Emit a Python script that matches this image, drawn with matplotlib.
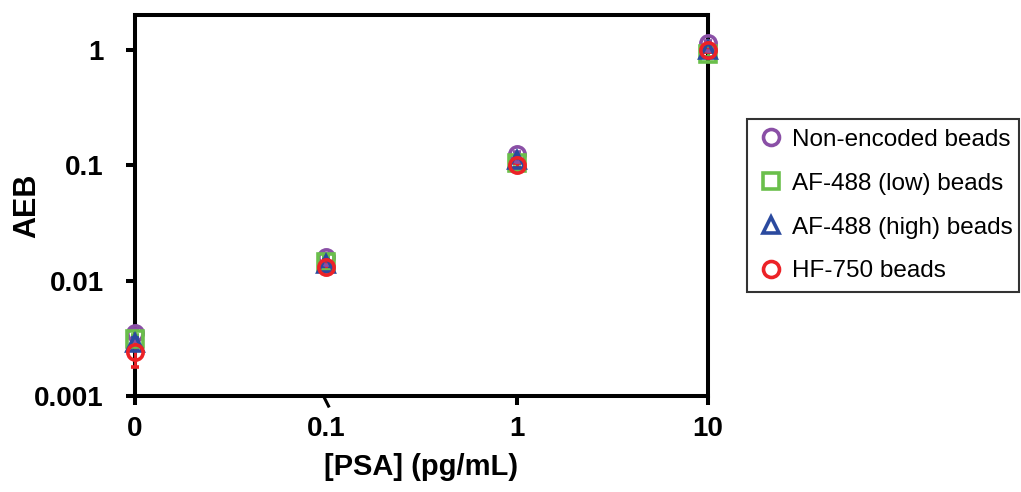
import matplotlib
matplotlib.use("Agg")
import matplotlib.pyplot as plt
import matplotlib.transforms as mtransforms
from matplotlib.lines import Line2D
import numpy as np

plt.rcParams['font.family'] = ['Liberation Sans', 'DejaVu Sans']

# concentrations; 0 is drawn one decade below 0.1 on the log axis
psa = [0, 0.1, 1, 10]
psa_plot_pos = [0.01, 0.1, 1, 10]
tick_labels = ['0', '0.1', '1', '10']

series_names = ['Non-encoded beads', 'AF-488 (low) beads',
                'AF-488 (high) beads', 'HF-750 beads']
aeb_nonencoded = [0.0035, 0.016, 0.125, 1.15]
aeb_af488_low = [0.0031, 0.0145, 0.105, 0.92]
aeb_af488_high = [0.0029, 0.014, 0.11, 1.0]
aeb_hf750 = [0.0024, 0.013, 0.10, 1.0]

err_nonencoded = [0.0003, 0.001, 0.006, 0.05]
err_af488_low = [0.0003, 0.0015, 0.008, 0.05]
err_af488_high = [0.0003, 0.001, 0.006, 0.04]
err_hf750 = [0.0006, 0.0008, 0.005, 0.04]

colors = ['#8A4FA6', '#6ABF4B', '#2B4A9F', '#EC2227']
markers = ['o', 's', '^', 'o']

fig = plt.figure(figsize=(10.21, 4.92), dpi=100)
ax = fig.add_axes([0.1322, 0.1951, 0.5612, 0.7744])

all_y = [aeb_nonencoded, aeb_af488_low, aeb_af488_high, aeb_hf750]
all_err = [err_nonencoded, err_af488_low, err_af488_high, err_hf750]

for name, y, e, c, m in zip(series_names, all_y, all_err, colors, markers):
    ax.errorbar(psa_plot_pos, y, yerr=e, fmt=m, color=c, ecolor=c,
                markerfacecolor='none', markeredgecolor=c, markersize=11,
                markeredgewidth=2.6, elinewidth=2.0, capsize=3, capthick=2.0,
                clip_on=False, zorder=3)

ax.set_xscale('log')
ax.set_yscale('log')
ax.set_xlim(0.01, 10)
ax.set_ylim(0.001, 2)

ax.set_xticks(psa_plot_pos)
ax.set_xticklabels(tick_labels)
ax.xaxis.set_minor_locator(matplotlib.ticker.NullLocator())
ax.set_yticks([0.001, 0.01, 0.1, 1])
ax.set_yticklabels(['0.001', '0.01', '0.1', '1'])
ax.yaxis.set_minor_locator(matplotlib.ticker.NullLocator())

for s in ax.spines.values():
    s.set_linewidth(2.9)
ax.tick_params(axis='both', direction='out', length=6.5, width=2.9,
               labelsize=20)
ax.tick_params(axis='y', pad=16)
ax.tick_params(axis='x', pad=8)
for lbl in ax.get_xticklabels() + ax.get_yticklabels():
    lbl.set_fontweight('bold')

# hide the straight tick at 0.1 and draw a slanted break mark instead
ax.xaxis.get_major_ticks()[1].tick1line.set_visible(False)
trans = mtransforms.blended_transform_factory(ax.transData, ax.transAxes)
ax.plot([0.097, 0.104], [0.0, -0.03], color='black', lw=2.2,
        transform=trans, clip_on=False, solid_capstyle='butt')

ax.set_xlabel('[PSA] (pg/mL)', fontsize=21, fontweight='bold')
ax.xaxis.set_label_coords(0.5, -0.186)
ax.xaxis.label.set_va('center')
ax.set_ylabel('AEB', fontsize=22, fontweight='bold')
ax.yaxis.set_label_coords(-0.188, 0.5)
ax.yaxis.label.set_va('center')

handles = [Line2D([], [], linestyle='none', marker=m, markersize=11.5,
                  markerfacecolor='none', markeredgecolor=c,
                  markeredgewidth=2.6)
           for m, c in zip(markers, colors)]
leg = fig.legend(handles, series_names, loc='upper left',
                 bbox_to_anchor=(747 / 1021, 1 - 119 / 492 - 0.01,
                                 272 / 1021, 0.01),
                 mode='expand', fontsize=17.5,
                 frameon=True, fancybox=False, edgecolor='black',
                 handlelength=1.2, handletextpad=0.25, labelspacing=0.9,
                 borderpad=0.4, borderaxespad=0.0)
leg.get_frame().set_linewidth(1.5)

fig.savefig('out.png', dpi=100)
